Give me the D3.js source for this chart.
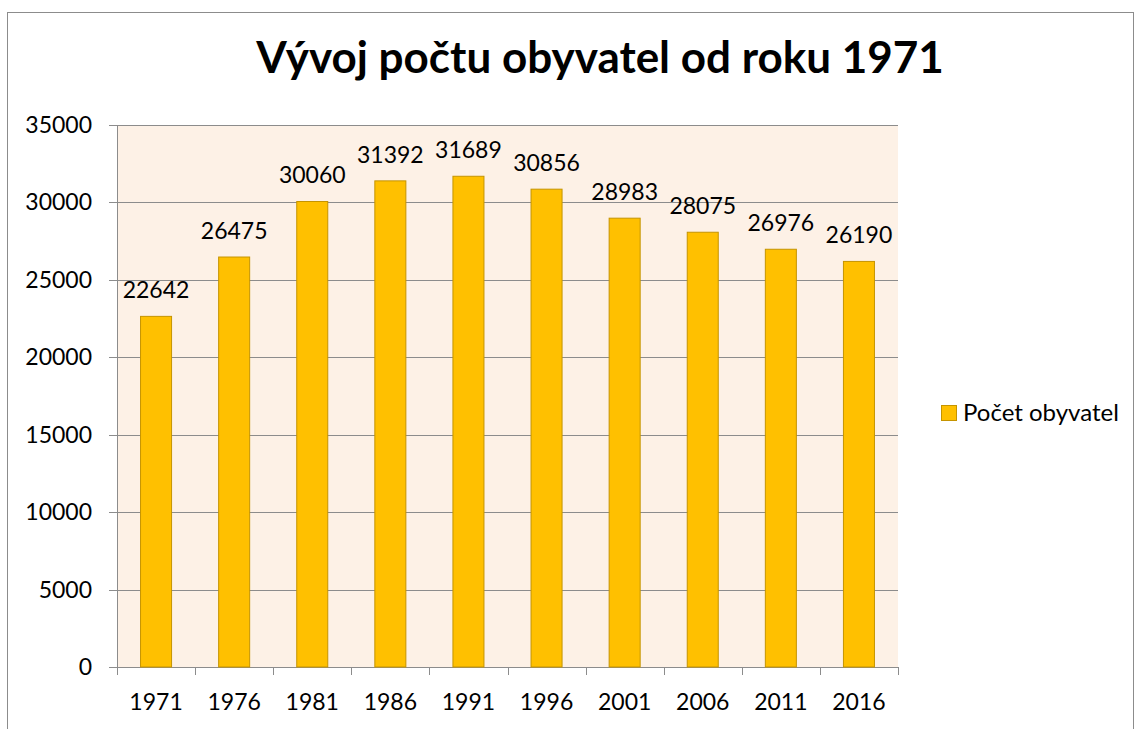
<!DOCTYPE html>
<html>
<head>
<meta charset="utf-8">
<script src="https://cdn.jsdelivr.net/npm/d3@7"></script>
<style>
body{margin:0;background:#fff}
text{font-family:Lato,"Open Sans",sans-serif;fill:#000}
</style>
</head>
<body>
<svg id="chart" width="1138" height="729"></svg>
<script>
const years = ["1971","1976","1981","1986","1991","1996","2001","2006","2011","2016"]
const population = [22642,26475,30060,31392,31689,30856,28983,28075,26976,26190]
const yTicks = [0,5000,10000,15000,20000,25000,30000,35000]
const seriesName = "Počet obyvatel"
const chartTitle = "Vývoj počtu obyvatel od roku 1971"

const svg = d3.select("#chart")
const m = {left:117, right:898, top:125, bottom:667}

// outer frame
svg.append("rect")
	.attr("x", 7.5).attr("y", 12.5)
	.attr("width", 1126).attr("height", 740)
	.attr("fill", "none").attr("stroke", "#8c8c8c")

const x = d3.scaleBand().domain(years).range([m.left, m.right]).paddingInner(0.59).paddingOuter(0.295)
const y = d3.scaleLinear().domain([0,35000]).range([m.bottom, m.top])

svg.append("rect")
	.attr("x", m.left).attr("y", m.top)
	.attr("width", m.right-m.left).attr("height", m.bottom-m.top)
	.attr("fill", "#fdf1e6")

// gridlines
svg.append("g").selectAll("line").data(yTicks).join("line")
	.attr("x1", m.left-8).attr("x2", m.right)
	.attr("y1", d=>Math.round(y(d))+0.5).attr("y2", d=>Math.round(y(d))+0.5)
	.attr("stroke", "#8c8c8c")

svg.append("g").selectAll("text").data(yTicks).join("text")
	.attr("x", m.left-25).attr("y", d=>y(d)+8)
	.attr("text-anchor", "end").attr("font-size", 23)
	.text(d=>d)

svg.append("line")
	.attr("x1", m.left+0.5).attr("x2", m.left+0.5)
	.attr("y1", m.top).attr("y2", m.bottom+8)
	.attr("stroke", "#8c8c8c")

// x ticks at band edges
const edges = years.map(d=>x(d)-x.step()*x.paddingInner()/2).concat([m.right])
svg.append("g").selectAll("line").data(edges).join("line")
	.attr("x1", d=>Math.round(d)+0.5).attr("x2", d=>Math.round(d)+0.5)
	.attr("y1", m.bottom).attr("y2", m.bottom+8)
	.attr("stroke", "#8c8c8c")

svg.append("g").selectAll("text").data(years).join("text")
	.attr("x", d=>x(d)+x.bandwidth()/2).attr("y", m.bottom+43)
	.attr("text-anchor", "middle").attr("font-size", 23)
	.text(d=>d)

// bars
svg.append("g").selectAll("rect").data(population).join("rect")
	.attr("x", (d,i)=>x(years[i])+0.5).attr("y", d=>y(d))
	.attr("width", x.bandwidth()-1).attr("height", d=>y(0)-y(d))
	.attr("fill", "#ffc000").attr("stroke", "#c59400")

svg.append("g").selectAll("text").data(population).join("text")
	.attr("x", (d,i)=>x(years[i])+x.bandwidth()/2).attr("y", d=>y(d)-18)
	.attr("text-anchor", "middle").attr("font-size", 23)
	.text(d=>d)

svg.append("text")
	.attr("x", 600).attr("y", 73)
	.attr("text-anchor", "middle").attr("font-size", 44).attr("font-weight", "bold")
	.text(chartTitle)

// legend
svg.append("rect")
	.attr("x", 941.5).attr("y", 405.5).attr("width", 15).attr("height", 15)
	.attr("fill", "#ffc000").attr("stroke", "#c59400")
svg.append("text")
	.attr("x", 963).attr("y", 421).attr("font-size", 24)
	.text(seriesName)
</script>
</body>
</html>
